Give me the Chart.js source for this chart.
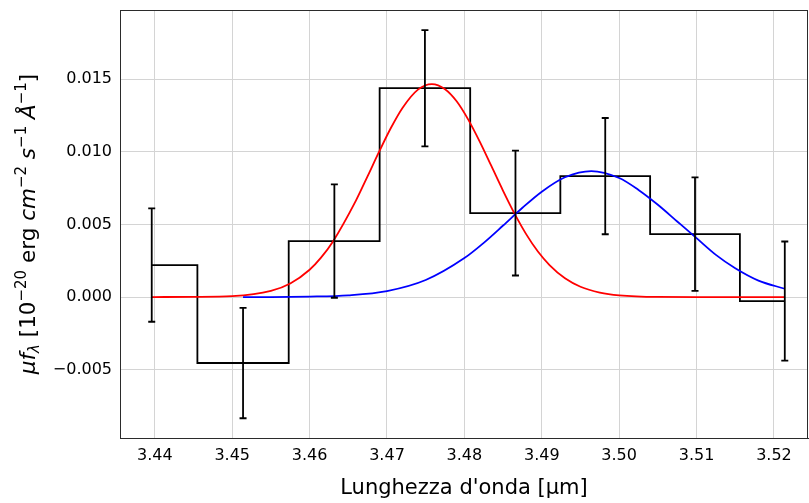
<!DOCTYPE html>
<html>
<head>
<meta charset="utf-8">
<script src="https://cdn.jsdelivr.net/npm/chart.js@4"></script>
<style>
  body { margin: 0; background: #fff; }
  #wrap { width: 809px; height: 503px; }
</style>
</head>
<body>
<div id="wrap"><canvas id="spectrumChart" width="809" height="503"></canvas></div>
<script>
// binned spectrum (step + error bars)
const wave = [3.4396, 3.4514, 3.4632, 3.4749, 3.4866, 3.4982, 3.5098, 3.5214];
const flux = [0.0022, -0.00454, 0.00385, 0.01437, 0.00578, 0.00832, 0.00433, -0.00028];
const fluxErr = [0.0039, 0.0038, 0.0039, 0.0040, 0.0043, 0.0040, 0.0039, 0.0041];

// red component
const redWave = [3.4396, 3.445, 3.450, 3.455, 3.4575, 3.460, 3.4615, 3.463, 3.466, 3.4675,
                 3.469, 3.4705, 3.472, 3.474, 3.4758, 3.4775, 3.479, 3.4805, 3.482, 3.4835,
                 3.485, 3.4865, 3.488, 3.4895, 3.491, 3.493, 3.495, 3.4975, 3.500, 3.505,
                 3.510, 3.5214];
const redFlux = [0.0, 0.00001, 0.00006, 0.00042, 0.00093, 0.00188, 0.00273, 0.00381, 0.00665, 0.00832,
                 0.01002, 0.01163, 0.01301, 0.01427, 0.01465, 0.01430, 0.01347, 0.01221, 0.01068, 0.00900,
                 0.00731, 0.00572, 0.00431, 0.00313, 0.00220, 0.00129, 0.00071, 0.00031, 0.00012, 0.00001,
                 0.0, 0.0];

// blue component
const blueWave = [3.4514, 3.455, 3.460, 3.465, 3.470, 3.475, 3.480, 3.4825, 3.485, 3.4875,
                  3.490, 3.493, 3.4964, 3.500, 3.5025, 3.505, 3.5075, 3.510, 3.5125, 3.515,
                  3.518, 3.5214];
const blueFlux = [0.0, 0.0, 0.00003, 0.00012, 0.00041, 0.00117, 0.00268, 0.00373, 0.00492, 0.00614,
                  0.00725, 0.00824, 0.00867, 0.00819, 0.00737, 0.00635, 0.00520, 0.00405, 0.00290, 0.00198,
                  0.00113, 0.00057];

const xTicks = [3.44, 3.45, 3.46, 3.47, 3.48, 3.49, 3.50, 3.51, 3.52];
const yTicks = [-0.005, 0.0, 0.005, 0.010, 0.015];

const xLabel = "Lunghezza d'onda [\u00b5m]";
// y label pieces: [text, italic, shift] shift: 0 normal, 1 superscript, -1 subscript
const yLabel = [
    ["\u03bcf", true, 0], ["\u03bb", true, -1], [" [10", false, 0], ["\u221220", false, 1],
    [" erg ", false, 0], ["cm", true, 0], ["\u22122", false, 1], [" ", false, 0],
    ["s", true, 0], ["\u22121", false, 1], [" ", false, 0], ["\u00c5", true, 0],
    ["\u22121", false, 1], ["]", false, 0]
];

Chart.defaults.font.family = "'DejaVu Sans', sans-serif";
Chart.defaults.color = "#000000";

const FONT = "'DejaVu Sans', sans-serif";
const SPINE = "#2b2b2b";

function toXY(xs, ys) {
    return xs.map((x, i) => ({ x: x, y: ys[i] }));
}

const extrasPlugin = {
    id: 'extras',
    afterDatasetsDraw(chart) {
        const ctx = chart.ctx;
        const xs = chart.scales.x, ys = chart.scales.y;
        const area = chart.chartArea;

        // error bars
        ctx.save();
        ctx.strokeStyle = "#000";
        ctx.lineWidth = 1.8;
        for (let i = 0; i < wave.length; i++) {
            const px = xs.getPixelForValue(wave[i]);
            const top = ys.getPixelForValue(flux[i] + fluxErr[i]);
            const bot = ys.getPixelForValue(flux[i] - fluxErr[i]);
            ctx.beginPath();
            ctx.moveTo(px, top); ctx.lineTo(px, bot);
            ctx.moveTo(px - 3.5, top); ctx.lineTo(px + 3.5, top);
            ctx.moveTo(px - 3.5, bot); ctx.lineTo(px + 3.5, bot);
            ctx.stroke();
        }
        ctx.restore();

        // frame
        ctx.save();
        ctx.strokeStyle = SPINE;
        ctx.lineWidth = 1;
        ctx.strokeRect(Math.round(area.left) + 0.5, Math.round(area.top) + 0.5,
                       Math.round(area.right - area.left) - 1, Math.round(area.bottom - area.top));
        ctx.restore();
    },
    afterDraw(chart) {
        const ctx = chart.ctx;
        const area = chart.chartArea;
        ctx.save();
        ctx.fillStyle = "#000";

        // x title
        ctx.font = "21px " + FONT;
        ctx.textAlign = "center";
        ctx.textBaseline = "alphabetic";
        ctx.fillText(xLabel, (area.left + area.right) / 2, 494);

        // y title, rotated
        const size = 21.5, small = 15;
        const pieceFont = (p) => (p[1] ? "oblique " : "") + (p[2] ? small : size) + "px " + FONT;
        let total = 0;
        yLabel.forEach(p => { ctx.font = pieceFont(p); total += ctx.measureText(p[0]).width; });
        ctx.translate(35, (area.top + area.bottom) / 2);
        ctx.rotate(-Math.PI / 2);
        ctx.textAlign = "left";
        let pos = -total / 2;
        yLabel.forEach(p => {
            ctx.font = pieceFont(p);
            const dy = p[2] === 1 ? -9 : (p[2] === -1 ? 4 : 0);
            ctx.fillText(p[0], pos, dy);
            pos += ctx.measureText(p[0]).width;
        });
        ctx.restore();
    }
};

const ctx = document.getElementById('spectrumChart').getContext('2d');

const myChart = new Chart(ctx, {
    type: 'line',
    data: {
        datasets: [
            {
                label: 'spettro',
                data: toXY(wave, flux),
                stepped: 'middle',
                borderColor: '#000000',
                borderWidth: 1.8,
                pointRadius: 0,
                fill: false,
                order: 3
            },
            {
                label: 'rossa',
                data: toXY(redWave, redFlux),
                borderColor: '#ff0000',
                borderWidth: 1.8,
                pointRadius: 0,
                cubicInterpolationMode: 'monotone',
                fill: false,
                order: 2
            },
            {
                label: 'blu',
                data: toXY(blueWave, blueFlux),
                borderColor: '#0000ff',
                borderWidth: 1.8,
                pointRadius: 0,
                cubicInterpolationMode: 'monotone',
                fill: false,
                order: 1
            }
        ]
    },
    options: {
        responsive: false,
        animation: false,
        layout: { padding: { top: 10, right: 1, left: 0, bottom: 0 } },
        plugins: {
            legend: { display: false },
            tooltip: { enabled: false }
        },
        scales: {
            x: {
                type: 'linear',
                min: 3.4355,
                max: 3.5244,
                afterBuildTicks: (scale) => { scale.ticks = xTicks.map(v => ({ value: v })); },
                afterFit: (scale) => { scale.height = 65; scale.paddingLeft = 0; scale.paddingRight = 0; },
                ticks: {
                    font: { size: 16 },
                    color: '#000',
                    padding: 8,
                    maxRotation: 0,
                    callback: (v) => v.toFixed(2)
                },
                grid: { color: '#d4d4d4', lineWidth: 1, drawTicks: false },
                border: { display: true, color: SPINE, width: 1 }
            },
            y: {
                min: -0.0097,
                max: 0.01975,
                afterBuildTicks: (scale) => { scale.ticks = yTicks.map(v => ({ value: v })); },
                afterFit: (scale) => { scale.width = 120; scale.paddingTop = 0; scale.paddingBottom = 0; },
                ticks: {
                    font: { size: 16 },
                    color: '#000',
                    padding: 8,
                    callback: (v) => (v < 0 ? '\u2212' : '') + Math.abs(v).toFixed(3)
                },
                grid: { color: '#d4d4d4', lineWidth: 1, drawTicks: false },
                border: { display: true, color: SPINE, width: 1 }
            }
        }
    },
    plugins: [extrasPlugin]
});
</script>
</body>
</html>
